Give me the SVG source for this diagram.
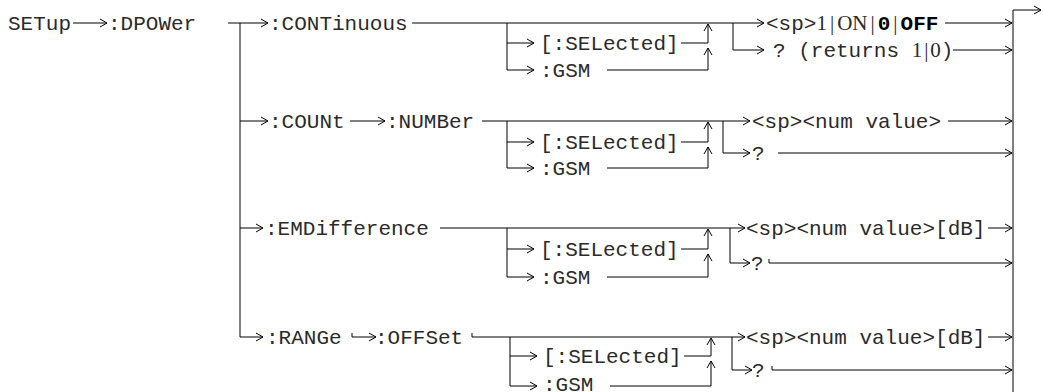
<svg xmlns="http://www.w3.org/2000/svg" width="1043" height="392" viewBox="0 0 1043 392">
<style>
text{font-family:"Liberation Mono","Courier New",monospace;font-size:21px;fill:#2a2a2a}
.s{font-family:"Liberation Serif","Times New Roman",serif}
.b{font-weight:bold;fill:#000}
.c path{fill:none;stroke:#000;stroke-width:1}
.a{marker-end:url(#ah)}
</style>
<defs>
<marker id="ah" viewBox="-8 -5 9 10" refX="0" refY="0" markerWidth="9" markerHeight="10" markerUnits="userSpaceOnUse" orient="auto"><path d="M-7,-4 L0,0 L-7,4" fill="none" stroke="#000" stroke-width="1"/></marker>
</defs>
<rect width="1043" height="392" fill="#fff"/>
<g class="c" id="connectors">
<path class="a" d="M73,23 H107"/>
<path d="M228,23 H240 V337"/>
<path class="a" d="M240,23 H268"/>
<path class="a" d="M240,121 H268"/>
<path class="a" d="M240,228 H263"/>
<path class="a" d="M240,337 H263"/>
<path class="a" d="M1013,392 V10 H1041"/>
<path class="a" d="M412,23 H764"/>
<path d="M507,23 V70"/>
<path class="a" d="M507,43 H534"/>
<path class="a" d="M507,70 H534"/>
<path class="a" d="M681,43 H708 V24"/>
<path class="a" d="M607,70 H708 V48"/>
<path class="a" d="M733,23 V50 H764"/>
<path class="a" d="M945,23 H1012"/>
<path class="a" d="M953,50 H1012"/>
<path class="a" d="M350,121 H385"/>
<path class="a" d="M482,121 H750"/>
<path d="M507,121 V168"/>
<path class="a" d="M507,142 H534"/>
<path class="a" d="M507,168 H534"/>
<path class="a" d="M681,142 H708 V122"/>
<path class="a" d="M607,168 H708 V147"/>
<path class="a" d="M723,121 V153 H750"/>
<path class="a" d="M948,121 H1012"/>
<path class="a" d="M778,153 H1012"/>
<path class="a" d="M440,228 H745"/>
<path d="M507,228 V277"/>
<path class="a" d="M507,249 H534"/>
<path class="a" d="M507,277 H534"/>
<path class="a" d="M681,249 H708 V229"/>
<path class="a" d="M607,277 H708 V254"/>
<path class="a" d="M730,228 V263 H750"/>
<path class="a" d="M988,228 H1012"/>
<path class="a" d="M769,259 V263 H1012"/>
<path class="a" d="M352,333 V337 H376"/>
<path class="a" d="M472,333 V337 H745"/>
<path d="M510,337 V386"/>
<path class="a" d="M510,356 H537"/>
<path class="a" d="M510,386 H537"/>
<path class="a" d="M684,356 H711 V338"/>
<path class="a" d="M610,386 H711 V361"/>
<path class="a" d="M732,337 V370 H752"/>
<path class="a" d="M988,337 H1012"/>
<path class="a" d="M772,366 V370 H1012"/>
</g>
<g id="setup"><text x="8" y="30">SETup</text></g>
<g id="dpower"><text x="108" y="30">:DPOWer</text></g>
<g id="continuous"><text x="269" y="30">:CONTinuous</text></g>
<g id="cont-sel"><text x="540" y="50">[:SELected]</text></g>
<g id="cont-gsm"><text x="540" y="77">:GSM</text></g>
<g id="cont-val"><text x="766" y="30">&lt;sp&gt;<tspan class="s">1</tspan><tspan class="s" dx="3">|</tspan><tspan class="s" dx="3">ON</tspan><tspan class="s" dx="3">|</tspan><tspan class="b" dx="3">0</tspan><tspan class="s" dx="3">|</tspan><tspan class="b" dx="3">OFF</tspan></text></g>
<g id="cont-q"><text x="773" y="57">? (returns <tspan class="s">1</tspan><tspan class="s" dx="2">|</tspan><tspan class="s" dx="2">0</tspan>)</text></g>
<g id="count"><text x="269" y="128">:COUNt</text></g>
<g id="number"><text x="386" y="128">:NUMBer</text></g>
<g id="count-sel"><text x="540" y="149">[:SELected]</text></g>
<g id="count-gsm"><text x="540" y="175">:GSM</text></g>
<g id="count-val"><text x="752" y="128">&lt;sp&gt;&lt;num value&gt;</text></g>
<g id="count-q"><text x="752" y="160">?</text></g>
<g id="emd"><text x="265" y="235">:EMDifference</text></g>
<g id="emd-sel"><text x="540" y="256">[:SELected]</text></g>
<g id="emd-gsm"><text x="540" y="284">:GSM</text></g>
<g id="emd-val"><text x="746" y="235">&lt;sp&gt;&lt;num value&gt;[dB]</text></g>
<g id="emd-q"><text x="751" y="270">?</text></g>
<g id="range"><text x="266" y="344">:RANGe</text></g>
<g id="offset"><text x="375" y="344">:OFFSet</text></g>
<g id="offset-sel"><text x="543" y="363">[:SELected]</text></g>
<g id="offset-gsm"><text x="543" y="391">:GSM</text></g>
<g id="offset-val"><text x="746" y="344">&lt;sp&gt;&lt;num value&gt;[dB]</text></g>
<g id="offset-q"><text x="752" y="377">?</text></g>
</svg>
